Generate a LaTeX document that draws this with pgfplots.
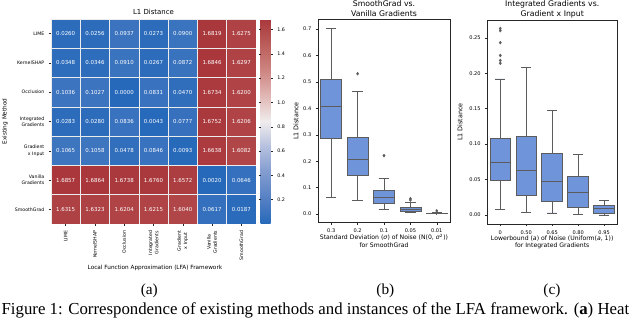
\documentclass[border=0pt]{standalone}
\usepackage{pgfplots}
\pgfplotsset{compat=1.18}
\usepgfplotslibrary{statistics}
\usepackage{fontspec}
\setmainfont{DejaVu Sans}
\newfontfamily\capfont{Liberation Serif}
\definecolor{boxblue}{RGB}{112,148,218}
\definecolor{boxgray}{RGB}{92,92,92}
\pgfplotsset{/pgf/number format/assume math mode=true, every axis title shift=0pt}
\begin{document}
\begin{tikzpicture}
\useasboundingbox (0,0) rectangle (480pt,-238.5pt);
% ---------------- (a) heatmap
\begin{axis}[
  at={(38.25pt,-14.25pt)}, anchor=north west,
  scale only axis, width=153.75pt, height=153.75pt,
  xmin=-0.5, xmax=6.5, ymin=-0.5, ymax=6.5, y dir=reverse,
  axis line style={draw=none},
  tick pos=left, tick align=outside, major tick length=1.5pt,
  tick style={black!85, line width=0.3pt},
  xtick={0,...,6}, ytick={0,...,6},
  xticklabels={LIME,KernelSHAP,Occlusion,{Integrated\\Gradients},{Gradient\\x Input},{Vanilla\\Gradients},SmoothGrad},
  yticklabels={LIME,KernelSHAP,Occlusion,{Integrated\\Gradients},{Gradient\\x Input},{Vanilla\\Gradients},SmoothGrad},
  xticklabel style={rotate=90, anchor=east, align=center, font=\fontsize{3.5}{4.7}\selectfont},
  yticklabel style={align=right, font=\fontsize{3.5}{4.7}\selectfont},
  colormap={vlag}{rgb255=(38,105,186) rgb255=(85,128,196) rgb255=(129,155,207) rgb255=(180,191,222) rgb255=(240,236,237) rgb255=(224,184,181) rgb255=(206,133,129) rgb255=(187,94,92) rgb255=(169,55,59)},
  point meta min=0, point meta max=1.6864,
  colorbar,
  colorbar style={
    at={(parent axis.north east)}, anchor=north west, xshift=-5pt,
    width=7.5pt, scale only axis,
    axis line style={draw=none},
    ytick={0.2,0.4,0.6,0.8,1.0,1.2,1.4,1.6},
    tick align=outside, major tick length=1.5pt,
    tick style={black!85, line width=0.3pt},
    yticklabel style={font=\fontsize{3.6}{4.3}\selectfont, /pgf/number format/fixed, /pgf/number format/fixed zerofill, /pgf/number format/precision=1},
  },
  title={L1 Distance},
  title style={at={(axis description cs:0.5,1.034)}, anchor=center, font=\fontsize{5.2}{6.5}\selectfont},
  xlabel={Local Function Approximation (LFA) Framework},
  xlabel style={at={(axis description cs:0.507,-0.215)}, anchor=center, font=\fontsize{4.3}{5.4}\selectfont},
  ylabel={Existing Method},
  ylabel style={at={(axis description cs:-0.224,0.5)}, anchor=center, font=\fontsize{4.3}{5.4}\selectfont},
]
\addplot[matrix plot*, mesh/cols=7, point meta=explicit, draw=white!85!gray, line width=0.35pt,
  nodes near coords={\pgfmathprintnumber[fixed,fixed zerofill,precision=4]{\pgfplotspointmeta}},
  every node near coord/.append style={anchor=center, white, font=\fontsize{4.1}{5}\selectfont}]
  table[meta=v] {
x y v
0 0 0.0260
1 0 0.0256
2 0 0.0937
3 0 0.0273
4 0 0.0900
5 0 1.6819
6 0 1.6275
0 1 0.0348
1 1 0.0346
2 1 0.0910
3 1 0.0267
4 1 0.0872
5 1 1.6846
6 1 1.6297
0 2 0.1036
1 2 0.1027
2 2 0.0000
3 2 0.0831
4 2 0.0470
5 2 1.6734
6 2 1.6200
0 3 0.0283
1 3 0.0280
2 3 0.0836
3 3 0.0043
4 3 0.0777
5 3 1.6752
6 3 1.6206
0 4 0.1065
1 4 0.1058
2 4 0.0478
3 4 0.0846
4 4 0.0093
5 4 1.6638
6 4 1.6082
0 5 1.6857
1 5 1.6864
2 5 1.6738
3 5 1.6760
4 5 1.6572
5 5 0.0020
6 5 0.0646
0 6 1.6315
1 6 1.6323
2 6 1.6204
3 6 1.6215
4 6 1.6040
5 6 0.0617
6 6 0.0187
};
\end{axis}
% ---------------- (b)
\begin{axis}[
  at={(238.5pt,-14.625pt)}, anchor=north west,
  scale only axis, width=99pt, height=152.25pt,
  xmin=-0.5, xmax=4.5, ymin=-0.032, ymax=0.736,
  xtick={0,...,4}, xticklabels={0.3,0.2,0.1,0.05,0.01},
  ytick={0,0.1,0.2,0.3,0.4,0.5,0.6,0.7},
  yticklabel style={/pgf/number format/fixed, /pgf/number format/fixed zerofill, /pgf/number format/precision=1},
  ticklabel style={font=\fontsize{3.8}{4.5}\selectfont},
  tick pos=left, tick align=outside, major tick length=1.5pt,
  tick style={black!85, line width=0.3pt},
  axis line style={black!85, line width=0.4pt},
  title={SmoothGrad vs.\\Vanilla Gradients},
  title style={at={(axis description cs:0.5,1.052)}, anchor=center, align=center, font=\fontsize{5.8}{7.4}\selectfont},
  xlabel={Standard Deviation (\textit{σ}) of Noise (N(0, \textit{σ}\textsuperscript{2}))\\for SmoothGrad},
  xlabel style={at={(axis description cs:0.5,-0.09)}, anchor=center, align=center, font=\fontsize{4.6}{5.6}\selectfont},
  ylabel={L1 Distance},
  ylabel style={at={(axis description cs:-0.167,0.5)}, anchor=center, font=\fontsize{4.8}{6}\selectfont},
  boxplot/draw direction=y,
  boxplot/box extend=0.8, boxplot/whisker extend=0.4,
  every axis plot/.append style={draw=boxgray, line width=0.5pt, fill=boxblue, mark=diamond*, mark size=1.1pt, mark options={fill=boxgray, draw=boxgray, line width=0.3pt}},
]
\addplot[boxplot prepared={draw position=0, lower whisker=0.063, lower quartile=0.286, median=0.408, upper quartile=0.511, upper whisker=0.702}] coordinates {};
\addplot[boxplot prepared={draw position=1, lower whisker=0.050, lower quartile=0.146, median=0.207, upper quartile=0.292, upper whisker=0.464}] table[row sep=\\,y index=0] {data\\0.531\\};
\addplot[boxplot prepared={draw position=2, lower whisker=0.017, lower quartile=0.040, median=0.062, upper quartile=0.089, upper whisker=0.136}] table[row sep=\\,y index=0] {data\\0.221\\};
\addplot[boxplot prepared={draw position=3, lower whisker=0.005, lower quartile=0.010, median=0.019, upper quartile=0.026, upper whisker=0.045}] table[row sep=\\,y index=0] {data\\0.058\\0.053\\};
\addplot[boxplot prepared={draw position=4, lower whisker=0.001, lower quartile=0.002, median=0.003, upper quartile=0.004, upper whisker=0.007}] table[row sep=\\,y index=0] {data\\0.012\\};
\end{axis}
% ---------------- (c)
\begin{axis}[
  at={(365.5pt,-15pt)}, anchor=north west,
  scale only axis, width=97.3pt, height=153pt,
  xmin=-0.5, xmax=4.5, ymin=-0.0127, ymax=0.275,
  xtick={0,...,4}, xticklabels={0,0.50,0.65,0.80,0.95},
  ytick={0,0.05,0.1,0.15,0.2,0.25},
  yticklabel style={/pgf/number format/fixed, /pgf/number format/fixed zerofill, /pgf/number format/precision=2},
  ticklabel style={font=\fontsize{3.8}{4.5}\selectfont},
  tick pos=left, tick align=outside, major tick length=1.5pt,
  tick style={black!85, line width=0.3pt},
  axis line style={black!85, line width=0.4pt},
  title={Integrated Gradients vs.\\Gradient x Input},
  title style={at={(axis description cs:0.5,1.052)}, anchor=center, align=center, font=\fontsize{5.8}{7.4}\selectfont},
  xlabel={Lowerbound (\textit{a}) of Noise (Uniform(\textit{a}, 1))\\for Integrated Gradients},
  xlabel style={at={(axis description cs:0.5,-0.09)}, anchor=center, align=center, font=\fontsize{4.6}{5.6}\selectfont},
  ylabel={L1 Distance},
  ylabel style={at={(axis description cs:-0.21,0.5)}, anchor=center, font=\fontsize{4.8}{6}\selectfont},
  boxplot/draw direction=y,
  boxplot/box extend=0.8, boxplot/whisker extend=0.4,
  every axis plot/.append style={draw=boxgray, line width=0.5pt, fill=boxblue, mark=diamond*, mark size=1.1pt, mark options={fill=boxgray, draw=boxgray, line width=0.3pt}},
]
\addplot[boxplot prepared={draw position=0, lower whisker=0.008, lower quartile=0.049, median=0.074, upper quartile=0.108, upper whisker=0.192}] table[row sep=\\,y index=0] {data\\0.263\\0.260\\0.243\\0.225\\0.218\\0.214\\};
\addplot[boxplot prepared={draw position=1, lower whisker=0.004, lower quartile=0.028, median=0.0625, upper quartile=0.111, upper whisker=0.208}] coordinates {};
\addplot[boxplot prepared={draw position=2, lower whisker=0.003, lower quartile=0.019, median=0.047, upper quartile=0.087, upper whisker=0.148}] coordinates {};
\addplot[boxplot prepared={draw position=3, lower whisker=0.0014, lower quartile=0.011, median=0.032, upper quartile=0.054, upper whisker=0.085}] coordinates {};
\addplot[boxplot prepared={draw position=4, lower whisker=0.0, lower quartile=0.003, median=0.009, upper quartile=0.013, upper whisker=0.020}] coordinates {};
\end{axis}
% ---------------- captions
\node[font=\capfont\fontsize{11.5}{13}\selectfont] at (112pt,-218.25pt) {(a)};
\node[font=\capfont\fontsize{11.5}{13}\selectfont] at (289pt,-218.25pt) {(b)};
\node[font=\capfont\fontsize{11.5}{13}\selectfont] at (414pt,-218.25pt) {(c)};
\node[font=\capfont\fontsize{12.6}{14}\selectfont, anchor=base west, inner sep=0pt] at (1pt,-235.8pt) {Figure 1: Correspondence of existing methods and instances of the LFA framework. (\textbf{a}) Heat};
\end{tikzpicture}
\end{document}
